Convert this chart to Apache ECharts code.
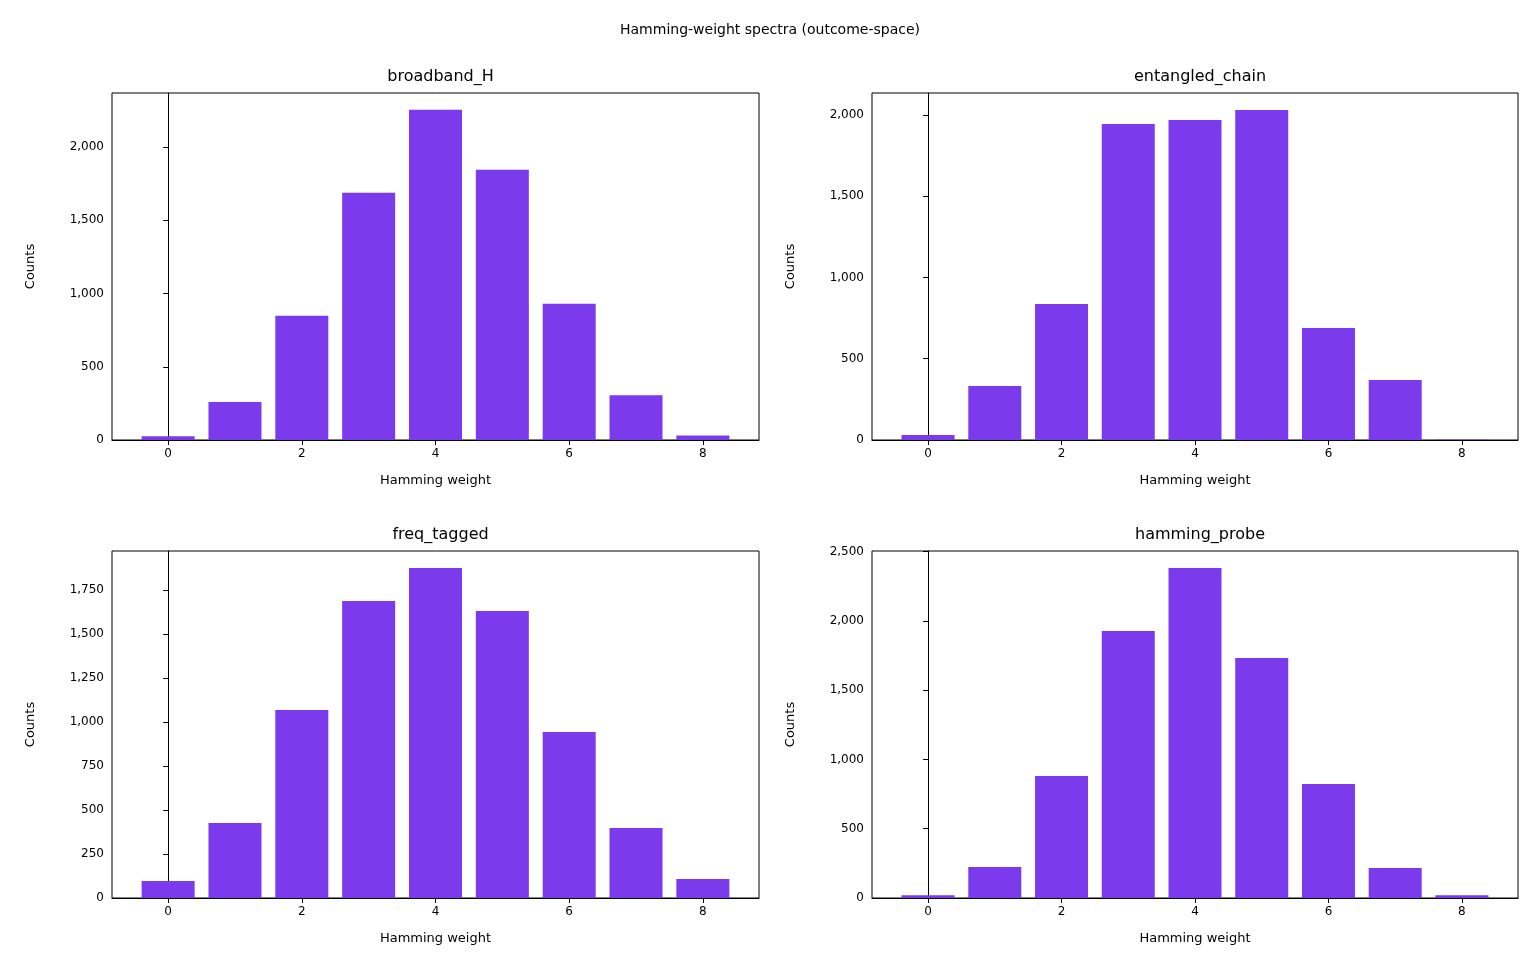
<!DOCTYPE html>
<html><head><meta charset="utf-8">
<script src="https://cdn.jsdelivr.net/npm/echarts@6/dist/echarts.min.js"></script>
<style>html,body{margin:0;padding:0;background:#fff}#c{width:1540px;height:980px}</style>
</head><body><div id="c"></div>
<script>
const weights = [0,1,2,3,4,5,6,7,8];
const titles = ['broadband_H','entangled_chain','freq_tagged','hamming_probe'];
const broadband = [25,260,848,1688,2255,1845,930,306,30];
const entangled = [30,332,837,1945,1969,2031,689,369,3];
const freqTagged = [97,426,1068,1688,1875,1631,943,398,108];
const hammingProbe = [20,224,881,1928,2383,1733,823,217,20];
const allData = [broadband, entangled, freqTagged, hammingProbe];
const yMax = [2369,2135,1972,2505];
const yInt = [500,500,250,500];
const xTicks = [0,2,4,6,8];

const grids = [
  {left:112, top:93, width:647, height:347},
  {left:872, top:93, width:646, height:347},
  {left:112, top:551, width:647, height:347},
  {left:872, top:551, width:646, height:347}
];
const font = 'DejaVu Sans';
const opt = {
  animation:false,
  textStyle:{fontFamily:font},
  title:[{text:'Hamming-weight spectra (outcome-space)', left:'center', top:18,
    textStyle:{fontSize:14, fontWeight:'normal', color:'#000', fontFamily:font}}],
  grid:[], xAxis:[], yAxis:[], series:[]
};
grids.forEach((g,i)=>{
  opt.grid.push(Object.assign({show:true, borderColor:'#000', borderWidth:1, backgroundColor:'transparent'}, g));
  opt.title.push({text:titles[i], left:g.left+g.width/2, textAlign:'center', top:g.top-29,
    textStyle:{fontSize:16, fontWeight:'normal', color:'#000', fontFamily:font}});
  opt.xAxis.push({type:'value', gridIndex:i, min:-0.84, max:8.84,
    name:'Hamming weight', nameLocation:'middle', nameGap:34,
    nameTextStyle:{fontSize:13, color:'#000', fontFamily:font},
    splitLine:{show:false},
    axisLine:{show:true, onZero:false, lineStyle:{color:'#000'}},
    axisTick:{show:true, inside:false, length:5, customValues:xTicks, lineStyle:{color:'#000'}},
    axisLabel:{customValues:xTicks, fontSize:12, color:'#000', margin:8, fontFamily:font}
  });
  opt.yAxis.push({type:'value', gridIndex:i, min:0, max:yMax[i], interval:yInt[i],
    name:'Counts', nameLocation:'middle', nameGap:i%2===0?75:75,
    nameTextStyle:{fontSize:13, color:'#000', fontFamily:font},
    splitLine:{show:false},
    axisLine:{show:true, lineStyle:{color:'#000'}},
    axisTick:{show:true, inside:false, length:5, lineStyle:{color:'#000'}},
    axisLabel:{fontSize:12, color:'#000', margin:8, fontFamily:font,
      showMaxLabel:false}
  });
  opt.series.push({type:'bar', xAxisIndex:i, yAxisIndex:i, barWidth:53,
    itemStyle:{color:'#7b3aeb'},
    data: weights.map((w,k)=>[w, allData[i][k]])});
});
echarts.init(document.getElementById('c')).setOption(opt);
</script></body></html>
